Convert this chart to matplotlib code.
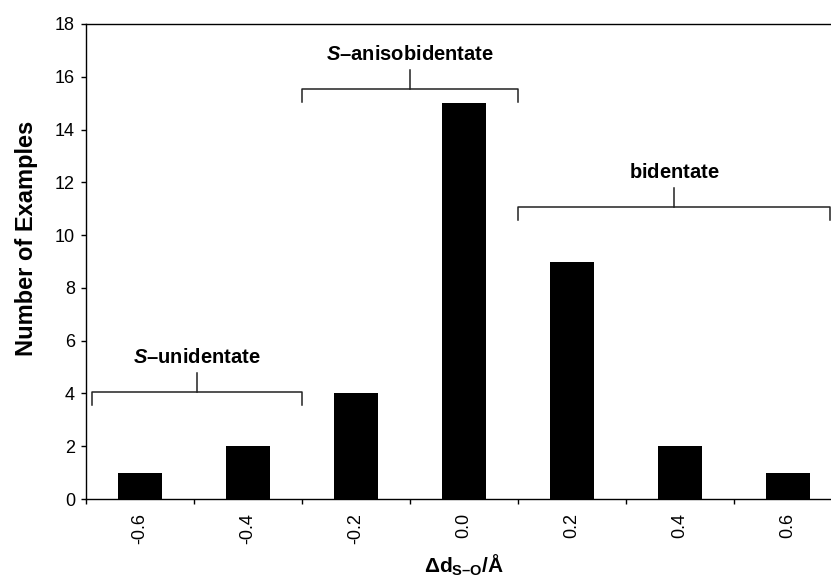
import matplotlib
matplotlib.use("Agg")
import matplotlib.pyplot as plt
import numpy as np

plt.rcParams['font.family'] = ['Liberation Sans', 'DejaVu Sans']
plt.rcParams['mathtext.fontset'] = 'custom'
plt.rcParams['mathtext.rm'] = 'Liberation Sans'
plt.rcParams['mathtext.bf'] = 'Liberation Sans:bold'
plt.rcParams['mathtext.it'] = 'Liberation Sans:italic'
plt.rcParams['mathtext.bfit'] = 'Liberation Sans:italic:bold'

# data
categories = ['-0.6', '-0.4', '-0.2', '0.0', '0.2', '0.4', '0.6']
counts = [1, 2, 4, 15, 9, 2, 1]

# brackets: (label, x start, x end, y level)
brackets = [
    (r'$\mathbfit{S}\mathbf{–unidentate}$', -0.44, 1.5, 4.05),
    (r'$\mathbfit{S}\mathbf{–anisobidentate}$', 1.5, 3.5, 15.55),
    (r'$\mathbf{bidentate}$', 3.5, 6.39, 11.07),
]

fig = plt.figure(figsize=(8.31, 5.79), dpi=100)
ax = fig.add_axes([86/831, 80/579, 756/831, 475/579])

x = np.arange(len(categories))
ax.bar(x, counts, width=0.4, color='black')

ax.set_xlim(-0.5, len(categories) - 0.5)
ax.set_ylim(0, 18)
ax.set_yticks(np.arange(0, 19, 2))
ax.set_xticks(np.arange(-0.5, len(categories), 1.0))
ax.set_xticklabels([])
ax.set_xticks(x, minor=True)
ax.set_xticklabels(categories, minor=True, rotation=90, fontsize=13)
ax.tick_params(axis='x', which='minor', length=0, pad=10)
ax.tick_params(axis='x', which='major', direction='out', length=3.5, width=1)
ax.tick_params(axis='y', direction='out', length=3.5, width=1, labelsize=13, pad=4.5)

for s in ['left', 'bottom', 'top']:
    ax.spines[s].set_linewidth(1)
ax.spines['right'].set_visible(False)

ax.set_ylabel('Number of Examples', fontsize=17, fontweight='bold')
ax.yaxis.set_label_coords(-0.064, 0.549)
ax.set_xlabel(r'$\mathbf{\Delta d_{S–O}/Å}$', fontsize=15, labelpad=6)

for label, x0, x1, y in brackets:
    ax.plot([x0, x0, x1, x1], [y - 0.5, y, y, y - 0.5], color='#222222', lw=1.1,
            clip_on=False)
    xm = (x0 + x1) / 2
    ax.plot([xm, xm], [y, y + 0.72], color='#222222', lw=1.1, clip_on=False)
    ax.text(xm, y + 0.95, label, ha='center', va='bottom', fontsize=14.5)

fig.savefig('out.png', dpi=100)
